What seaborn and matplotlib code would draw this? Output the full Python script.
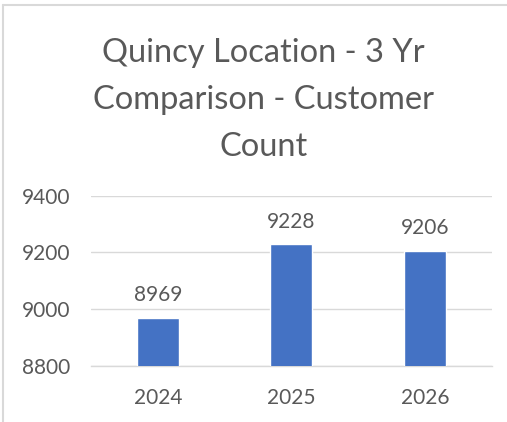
import matplotlib
matplotlib.use("Agg")
import matplotlib.pyplot as plt
import seaborn as sns
import pandas as pd
from matplotlib.lines import Line2D

years = ["2024", "2025", "2026"]
counts = [8969, 9228, 9206]
yticks = [8800, 9000, 9200, 9400]
title = "Quincy Location - 3 Yr\nComparison - Customer\nCount"

sns.set_theme(style="white")
plt.rcParams['font.family'] = ['Lato', 'DejaVu Sans']

df = pd.DataFrame({"year": years, "count": counts})

fig = plt.figure(figsize=(5.07, 4.22), dpi=100)
ax = fig.add_axes([0.1795, 0.1334, 0.9698 - 0.1795, 0.5363 - 0.1334])

sns.barplot(data=df, x="year", y="count", color="#4472C4", saturation=1,
            width=0.314, ax=ax, zorder=3)

ax.set_ylim(8800, 9400)
ax.set_yticks(yticks)
ax.set_yticklabels([str(t) for t in yticks])
ax.yaxis.grid(True, color="#D9D9D9", linewidth=1.0, zorder=0)
ax.set_axisbelow(True)
for s in ["top", "right", "left"]:
    ax.spines[s].set_visible(False)
ax.spines["bottom"].set_color("#D9D9D9")
ax.spines["bottom"].set_linewidth(1.0)
ax.set_xlabel("")
ax.set_ylabel("")
ax.tick_params(axis="both", length=0, labelsize=15, colors="#595959")
ax.tick_params(axis="y", pad=15)
ax.tick_params(axis="x", pad=16)

for i, v in enumerate(counts):
    ax.annotate(str(v), (i, v), xytext=(0, 9), textcoords="offset points",
                ha="center", va="bottom", fontsize=15, color="#595959")

fig.text(0.519, 0.763, title, ha="center", va="center", fontsize=23.5,
         color="#595959", linespacing=1.72)

fig.add_artist(Line2D([3/507, 3/507], [0, 1 - 5/422], transform=fig.transFigure,
                      color="#D9D9D9", linewidth=1.5))
fig.add_artist(Line2D([3/507, 1], [1 - 5/422, 1 - 5/422], transform=fig.transFigure,
                      color="#D9D9D9", linewidth=1.5))

fig.savefig("out.png", dpi=100, facecolor="white")
